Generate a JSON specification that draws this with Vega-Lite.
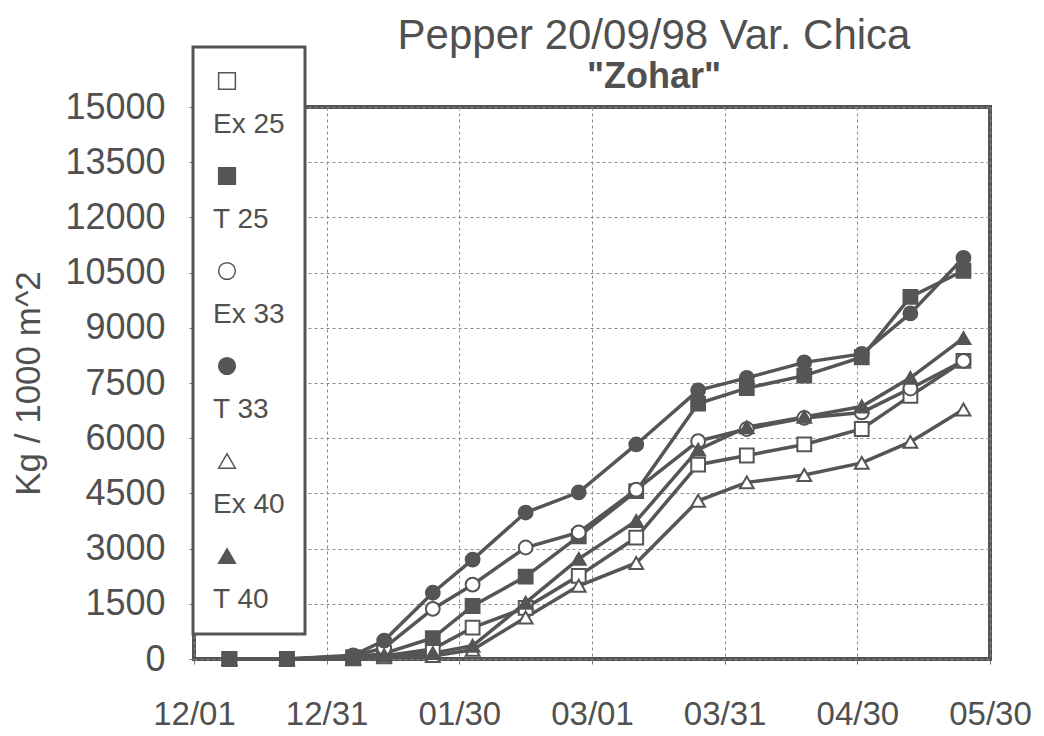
{
  "$schema": "https://vega.github.io/schema/vega-lite/v6.json",
  "width": 796,
  "height": 552,
  "autosize": {"type": "none"},
  "padding": {"left": 194, "top": 107, "right": 54, "bottom": 77},
  "background": "white",
  "title": {
    "text": "Pepper 20/09/98 Var. Chica",
    "subtitle": "\"Zohar\"",
    "anchor": "middle",
    "dx": 62,
    "offset": -50,
    "font": "Liberation Sans",
    "fontSize": 42,
    "fontWeight": "normal",
    "color": "#505050",
    "subtitleFont": "Liberation Sans",
    "subtitleFontSize": 36,
    "subtitleFontWeight": "bold",
    "subtitleColor": "#505050",
    "subtitlePadding": 2
  },
  "config": {
    "view": {"stroke": "#555555", "strokeWidth": 4},
    "legend": {"strokeWidth": 3},
    "axis": {
      "labelFont": "Liberation Sans",
      "titleFont": "Liberation Sans",
      "labelColor": "#505050",
      "titleColor": "#505050",
      "domain": false,
      "grid": true,
      "gridDash": [3, 3],
      "gridColor": "#8a8a8a",
      "gridWidth": 1,
      "tickColor": "#777777",
      "tickSize": 5
    }
  },
  "data": {
    "values": [
      {"date": "1998-12-09", "series": "Ex 25", "value": 0},
      {"date": "1998-12-22", "series": "Ex 25", "value": 0},
      {"date": "1999-01-06", "series": "Ex 25", "value": 20},
      {"date": "1999-01-13", "series": "Ex 25", "value": 80},
      {"date": "1999-01-24", "series": "Ex 25", "value": 270},
      {"date": "1999-02-02", "series": "Ex 25", "value": 850},
      {"date": "1999-02-14", "series": "Ex 25", "value": 1390},
      {"date": "1999-02-26", "series": "Ex 25", "value": 2260},
      {"date": "1999-03-11", "series": "Ex 25", "value": 3300},
      {"date": "1999-03-25", "series": "Ex 25", "value": 5280},
      {"date": "1999-04-05", "series": "Ex 25", "value": 5530},
      {"date": "1999-04-18", "series": "Ex 25", "value": 5830},
      {"date": "1999-05-01", "series": "Ex 25", "value": 6250},
      {"date": "1999-05-12", "series": "Ex 25", "value": 7150},
      {"date": "1999-05-24", "series": "Ex 25", "value": 8100},
      {"date": "1998-12-09", "series": "T 25", "value": 0},
      {"date": "1998-12-22", "series": "T 25", "value": 0},
      {"date": "1999-01-06", "series": "T 25", "value": 50},
      {"date": "1999-01-13", "series": "T 25", "value": 150},
      {"date": "1999-01-24", "series": "T 25", "value": 570},
      {"date": "1999-02-02", "series": "T 25", "value": 1440},
      {"date": "1999-02-14", "series": "T 25", "value": 2240},
      {"date": "1999-02-26", "series": "T 25", "value": 3330},
      {"date": "1999-03-11", "series": "T 25", "value": 4560},
      {"date": "1999-03-25", "series": "T 25", "value": 6940},
      {"date": "1999-04-05", "series": "T 25", "value": 7360},
      {"date": "1999-04-18", "series": "T 25", "value": 7700},
      {"date": "1999-05-01", "series": "T 25", "value": 8200},
      {"date": "1999-05-12", "series": "T 25", "value": 9840},
      {"date": "1999-05-24", "series": "T 25", "value": 10550},
      {"date": "1998-12-09", "series": "Ex 33", "value": 0},
      {"date": "1998-12-22", "series": "Ex 33", "value": 0},
      {"date": "1999-01-06", "series": "Ex 33", "value": 80},
      {"date": "1999-01-13", "series": "Ex 33", "value": 300},
      {"date": "1999-01-24", "series": "Ex 33", "value": 1360},
      {"date": "1999-02-02", "series": "Ex 33", "value": 2020},
      {"date": "1999-02-14", "series": "Ex 33", "value": 3030},
      {"date": "1999-02-26", "series": "Ex 33", "value": 3440},
      {"date": "1999-03-11", "series": "Ex 33", "value": 4600},
      {"date": "1999-03-25", "series": "Ex 33", "value": 5920},
      {"date": "1999-04-05", "series": "Ex 33", "value": 6250},
      {"date": "1999-04-18", "series": "Ex 33", "value": 6550},
      {"date": "1999-05-01", "series": "Ex 33", "value": 6700},
      {"date": "1999-05-12", "series": "Ex 33", "value": 7350},
      {"date": "1999-05-24", "series": "Ex 33", "value": 8100},
      {"date": "1998-12-09", "series": "T 33", "value": 0},
      {"date": "1998-12-22", "series": "T 33", "value": 0},
      {"date": "1999-01-06", "series": "T 33", "value": 100},
      {"date": "1999-01-13", "series": "T 33", "value": 500},
      {"date": "1999-01-24", "series": "T 33", "value": 1800},
      {"date": "1999-02-02", "series": "T 33", "value": 2700},
      {"date": "1999-02-14", "series": "T 33", "value": 3980},
      {"date": "1999-02-26", "series": "T 33", "value": 4530},
      {"date": "1999-03-11", "series": "T 33", "value": 5830},
      {"date": "1999-03-25", "series": "T 33", "value": 7300},
      {"date": "1999-04-05", "series": "T 33", "value": 7640},
      {"date": "1999-04-18", "series": "T 33", "value": 8060},
      {"date": "1999-05-01", "series": "T 33", "value": 8290},
      {"date": "1999-05-12", "series": "T 33", "value": 9390},
      {"date": "1999-05-24", "series": "T 33", "value": 10900},
      {"date": "1998-12-09", "series": "Ex 40", "value": 0},
      {"date": "1998-12-22", "series": "Ex 40", "value": 0},
      {"date": "1999-01-06", "series": "Ex 40", "value": 10},
      {"date": "1999-01-13", "series": "Ex 40", "value": 50},
      {"date": "1999-01-24", "series": "Ex 40", "value": 80},
      {"date": "1999-02-02", "series": "Ex 40", "value": 250},
      {"date": "1999-02-14", "series": "Ex 40", "value": 1130},
      {"date": "1999-02-26", "series": "Ex 40", "value": 1990},
      {"date": "1999-03-11", "series": "Ex 40", "value": 2610},
      {"date": "1999-03-25", "series": "Ex 40", "value": 4300},
      {"date": "1999-04-05", "series": "Ex 40", "value": 4800},
      {"date": "1999-04-18", "series": "Ex 40", "value": 5000},
      {"date": "1999-05-01", "series": "Ex 40", "value": 5330},
      {"date": "1999-05-12", "series": "Ex 40", "value": 5900},
      {"date": "1999-05-24", "series": "Ex 40", "value": 6780},
      {"date": "1998-12-09", "series": "T 40", "value": 0},
      {"date": "1998-12-22", "series": "T 40", "value": 0},
      {"date": "1999-01-06", "series": "T 40", "value": 20},
      {"date": "1999-01-13", "series": "T 40", "value": 100},
      {"date": "1999-01-24", "series": "T 40", "value": 160},
      {"date": "1999-02-02", "series": "T 40", "value": 360},
      {"date": "1999-02-14", "series": "T 40", "value": 1530},
      {"date": "1999-02-26", "series": "T 40", "value": 2720},
      {"date": "1999-03-11", "series": "T 40", "value": 3750},
      {"date": "1999-03-25", "series": "T 40", "value": 5690},
      {"date": "1999-04-05", "series": "T 40", "value": 6300},
      {"date": "1999-04-18", "series": "T 40", "value": 6580},
      {"date": "1999-05-01", "series": "T 40", "value": 6860},
      {"date": "1999-05-12", "series": "T 40", "value": 7640},
      {"date": "1999-05-24", "series": "T 40", "value": 8720}
    ]
  },
  "encoding": {
    "x": {
      "field": "date",
      "type": "temporal",
      "scale": {
        "type": "utc",
        "domain": [
          {"year": 1998, "month": 12, "date": 1, "utc": true},
          {"year": 1999, "month": 5, "date": 30, "utc": true}
        ]
      },
      "axis": {
        "title": null,
        "format": "%m/%d",
        "labelFontSize": 33,
        "labelPadding": 34,
        "labelFlush": false,
        "labelOverlap": false,
        "values": [
          {"year": 1998, "month": 12, "date": 1, "utc": true},
          {"year": 1998, "month": 12, "date": 31, "utc": true},
          {"year": 1999, "month": 1, "date": 30, "utc": true},
          {"year": 1999, "month": 3, "date": 1, "utc": true},
          {"year": 1999, "month": 3, "date": 31, "utc": true},
          {"year": 1999, "month": 4, "date": 30, "utc": true},
          {"year": 1999, "month": 5, "date": 30, "utc": true}
        ]
      }
    },
    "y": {
      "field": "value",
      "type": "quantitative",
      "scale": {"domain": [0, 15000], "nice": false},
      "axis": {
        "title": "Kg / 1000 m^2",
        "titleFontSize": 35,
        "titleFontWeight": "normal",
        "titlePadding": 18,
        "labelFontSize": 36,
        "labelPadding": 24,
        "format": "d",
        "values": [0, 1500, 3000, 4500, 6000, 7500, 9000, 10500, 12000, 13500, 15000]
      }
    }
  },
  "layer": [
    {
      "mark": {"type": "line", "color": "#555555", "strokeWidth": 3.5},
      "encoding": {"detail": {"field": "series", "type": "nominal"}}
    },
    {
      "mark": {"type": "point", "filled": true, "stroke": "#555555", "strokeWidth": 2, "opacity": 1, "size": 190},
      "encoding": {
        "shape": {
          "field": "series",
          "type": "nominal",
          "scale": {
            "domain": ["Ex 25", "T 25", "Ex 33", "T 33", "Ex 40", "T 40"],
            "range": ["square", "square", "circle", "circle", "triangle-up", "triangle-up"]
          },
          "legend": {
            "orient": "none",
            "legendX": -1,
            "legendY": -60,
            "title": null,
            "padding": 20,
            "rowPadding": 23,
            "strokeColor": "#555555",
            "fillColor": "white",
            "labelFont": "Liberation Sans",
            "labelFontSize": 28,
            "labelColor": "#505050",
            "labelBaseline": "top",
            "labelOffset": -28,
            "labelExpr": "['', datum.label]",
            "symbolSize": 280,
            "encode": {
              "symbols": {
                "stroke": {"value": "#555555"},
                "strokeWidth": {"value": 2.5}
              }
            }
          }
        },
        "fill": {
          "field": "series",
          "type": "nominal",
          "scale": {
            "domain": ["Ex 25", "T 25", "Ex 33", "T 33", "Ex 40", "T 40"],
            "range": ["white", "#555555", "white", "#555555", "white", "#555555"]
          }
        }
      }
    }
  ]
}
